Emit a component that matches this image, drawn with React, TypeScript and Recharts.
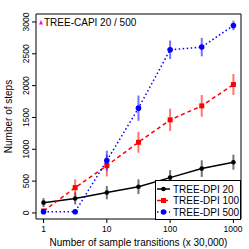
import React from 'react';
import {
  ComposedChart,
  Line,
  XAxis,
  YAxis,
  ErrorBar,
  ReferenceArea,
  Legend
} from 'recharts';

// sample transitions (x 30,000), log spaced
const transitions = [1, 3.16, 10, 31.6, 100, 316, 1000];

const dpi20Steps = [162, 228, 320, 412, 555, 697, 797];
const dpi20Err = [70, 95, 105, 115, 118, 130, 118];

const dpi100Steps = [30, 398, 744, 1110, 1462, 1682, 2017];
const dpi100Err = [40, 130, 170, 165, 175, 170, 165];

const dpi500Steps = [20, 20, 822, 1646, 2563, 2605, 2945];
const dpi500Err = [15, 15, 157, 198, 145, 145, 74];

const xTicks = [1, 10, 100, 1000];
const yTicks = [0, 500, 1000, 1500, 2000, 2500, 3000];

const legendNames = ['TREE-DPI 20', 'TREE-DPI 100', 'TREE-DPI 500'];
const capiLabel = 'TREE-CAPI 20 / 500';

const X_DOMAIN: [number, number] = [0.76, 1318];
const Y_DOMAIN: [number, number] = [-95, 3125];

const FONT = '"Liberation Sans", Arial, sans-serif';

const rows = transitions.map((t, i) => ({
  t,
  dpi20: dpi20Steps[i],
  dpi20Err: dpi20Err[i],
  dpi100: dpi100Steps[i],
  dpi100Err: dpi100Err[i],
  dpi500: dpi500Steps[i],
  dpi500Err: dpi500Err[i],
}));

const YTick = (props: any) => {
  const { x, y, payload } = props;
  const tx = x - 1;
  return (
    <text
      x={tx}
      y={y}
      transform={`rotate(-90, ${tx}, ${y})`}
      textAnchor="middle"
      fontSize={8.5}
      fontFamily={FONT}
      fill="#000"
    >
      {payload.value}
    </text>
  );
};

const XTick = (props: any) => {
  const { x, y, payload } = props;
  return (
    <text x={x} y={y + 7} textAnchor="middle" fontSize={8.5} fontFamily={FONT} fill="#000">
      {payload.value}
    </text>
  );
};

const XTitle = (props: any) => {
  const { viewBox } = props;
  const cx = viewBox.x + viewBox.width / 2;
  return (
    <text x={cx} y={246} textAnchor="middle" fontSize={10} fontFamily={FONT} fill="#000">
      Number of sample transitions (x 30,000)
    </text>
  );
};

const YTitle = (props: any) => {
  const { viewBox } = props;
  const cy = viewBox.y + viewBox.height / 2;
  return (
    <text
      x={12}
      y={cy}
      transform={`rotate(-90, 12, ${cy})`}
      textAnchor="middle"
      fontSize={10}
      fontFamily={FONT}
      fill="#000"
    >
      Number of steps
    </text>
  );
};

const squareDot = (p: any) => {
  if (p.cx == null || p.cy == null) return <g key={`sq-${p.index}`} />;
  return <rect key={`sq-${p.index}`} x={p.cx - 2.5} y={p.cy - 2.5} width={5} height={5} fill="#FF0000" />;
};

const seriesStyle = [
  { color: '#000000', dash: undefined as string | undefined, marker: 'circle' },
  { color: '#FF0000', dash: '4 3', marker: 'square' },
  { color: '#0000FF', dash: '1.5 2.5', marker: 'circle' },
];

const renderLegend = () => {
  const rowY = [189, 200.5, 212];
  return (
    <svg width={249} height={249} style={{ display: 'block' }}>
      <polygon points="39,24.5 43,24.5 41,20" fill="#FF00FF" />
      <text x={44} y={22} fontSize={10} fontFamily={FONT} dominantBaseline="central" fill="#000">
        {capiLabel}
      </text>
      <rect x={155.5} y={180.5} width={85} height={39} fill="#fff" stroke="#000" strokeWidth={1} />
      {legendNames.map((name, i) => {
        const s = seriesStyle[i];
        const y = rowY[i];
        return (
          <g key={name}>
            <line x1={157} x2={170} y1={y} y2={y} stroke={s.color} strokeWidth={1.5} strokeDasharray={s.dash} />
            {s.marker === 'square' ? (
              <rect x={161} y={y - 2.5} width={5} height={5} fill={s.color} />
            ) : (
              <circle cx={163.5} cy={y} r={i === 2 ? 2.8 : 2.3} fill={s.color} />
            )}
            <text x={173} y={y} fontSize={10} fontFamily={FONT} dominantBaseline="central" fill="#000">
              {name}
            </text>
          </g>
        );
      })}
    </svg>
  );
};

export default function App() {
  return (
    <div
      style={{
        position: 'absolute',
        left: 0,
        top: 0,
        width: 249,
        height: 249,
        background: '#fff',
        fontFamily: FONT,
      }}
    >
      <ComposedChart
        width={249}
        height={249}
        data={rows}
        margin={{ top: 14, right: 8, bottom: 0, left: 0 }}
      >
        <XAxis
          dataKey="t"
          type="number"
          scale="log"
          domain={X_DOMAIN}
          allowDataOverflow
          ticks={xTicks}
          axisLine={false}
          tickLine={{ stroke: '#000' }}
          tickSize={4}
          tickMargin={2}
          tick={<XTick />}
          height={30}
          label={<XTitle />}
        />
        <YAxis
          type="number"
          domain={Y_DOMAIN}
          allowDataOverflow
          ticks={yTicks}
          axisLine={false}
          tickLine={{ stroke: '#000' }}
          tickSize={4}
          tickMargin={2}
          tick={<YTick />}
          width={36}
          label={<YTitle />}
        />
        <ReferenceArea
          x1={X_DOMAIN[0]}
          x2={X_DOMAIN[1]}
          y1={Y_DOMAIN[0]}
          y2={Y_DOMAIN[1]}
          fill="none"
          stroke="#000"
          strokeWidth={1}
          ifOverflow="visible"
        />
        <Line
          dataKey="dpi20"
          stroke="#000"
          strokeWidth={1.5}
          dot={{ r: 2.3, fill: '#000', stroke: 'none' }}
          activeDot={false}
          isAnimationActive={false}
        >
          <ErrorBar dataKey="dpi20Err" direction="y" width={0} stroke="rgba(0,0,0,0.55)" strokeWidth={2} />
        </Line>
        <Line
          dataKey="dpi100"
          stroke="#FF0000"
          strokeWidth={1.5}
          strokeDasharray="4 3"
          dot={squareDot}
          activeDot={false}
          isAnimationActive={false}
        >
          <ErrorBar dataKey="dpi100Err" direction="y" width={0} stroke="rgba(255,0,0,0.55)" strokeWidth={2} />
        </Line>
        <Line
          dataKey="dpi500"
          stroke="#0000FF"
          strokeWidth={1.5}
          strokeDasharray="1.5 2.5"
          dot={{ r: 2.8, fill: '#0000FF', stroke: 'none' }}
          activeDot={false}
          isAnimationActive={false}
        >
          <ErrorBar dataKey="dpi500Err" direction="y" width={0} stroke="rgba(0,0,255,0.55)" strokeWidth={2} />
        </Line>
        <Legend
          layout="horizontal"
          verticalAlign="middle"
          content={renderLegend}
          wrapperStyle={{ position: 'absolute', left: 0, top: 0, width: 249, height: 249, pointerEvents: 'none' }}
        />
      </ComposedChart>
    </div>
  );
}
